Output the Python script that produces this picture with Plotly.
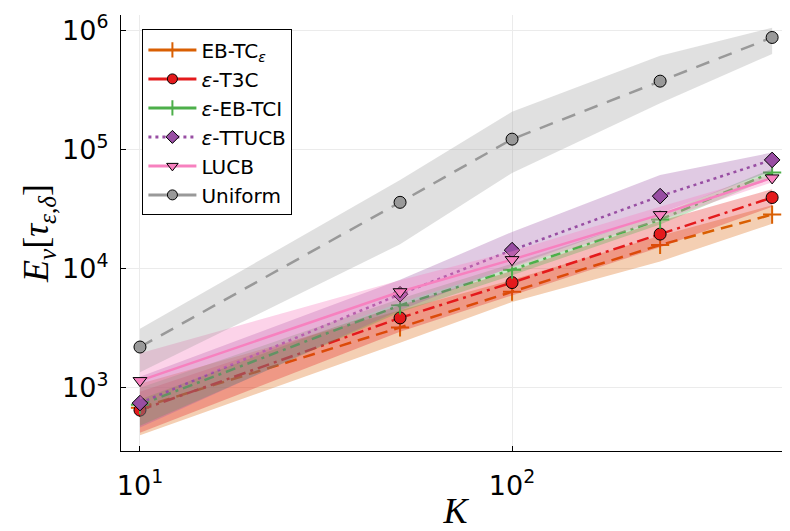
import plotly.graph_objects as go

K = [10, 50, 100, 250, 500]

names = ["EB-TC<sub><i>ε</i></sub>", "<i>ε</i>-T3C", "<i>ε</i>-EB-TCI", "<i>ε</i>-TTUCB", "LUCB", "Uniform"]

mean_ebtc = [680, 3210, 6400, 15800, 28400]
low_ebtc = [400, 2390, 5250, 11500, 23800]
up_ebtc = [1080, 4470, 8050, 18900, 34000]

mean_t3c = [650, 3860, 7640, 19500, 39500]
low_t3c = [420, 2950, 6000, 15100, 33000]
up_t3c = [925, 4920, 9600, 25100, 46400]

mean_ebtci = [720, 4920, 9800, 25800, 64000]
low_ebtci = [480, 4300, 8800, 23500, 58000]
up_ebtci = [1000, 5600, 11000, 28500, 69000]

mean_ttucb = [745, 6100, 14300, 40600, 81700]
low_ttucb = [464, 4470, 10400, 29000, 66100]
up_ttucb = [1240, 8050, 20300, 61100, 94200]

mean_lucb = [1150, 6400, 11900, 28400, 57700]
low_lucb = [800, 5200, 10200, 25500, 53000]
up_lucb = [1950, 8000, 14000, 33000, 62000]

mean_unif = [2200, 36000, 122000, 374000, 870000]
low_unif = [1350, 16000, 63500, 244000, 632000]
up_unif = [3130, 55400, 207000, 611000, 1050000]

x_tickvals = [10, 100]
x_ticktext = ["10<sup>1</sup>", "10<sup>2</sup>"]
y_tickvals = [1e3, 1e4, 1e5, 1e6]
y_ticktext = ["10<sup>3</sup>", "10<sup>4</sup>", "10<sup>5</sup>", "10<sup>6</sup>"]

colors = ["#D95F02", "#E41A1C", "#4DAF4A", "#984EA3", "#F781BF", "#999999"]
fills = ["rgba(217,95,2,0.3)", "rgba(228,26,28,0.3)", "rgba(77,175,74,0.3)",
         "rgba(152,78,163,0.3)", "rgba(247,129,191,0.35)", "rgba(153,153,153,0.3)"]
dashes = ["12px,7px", "12px,5px,3px,5px", "10px,5px,3px,5px", "3px,4px", "solid", "14px,10px"]
legend_dashes = ["solid", "solid", "solid", "3px,4px", "solid", "solid"]
symbols = ["cross-thin", "circle", "cross-thin", "diamond", "triangle-down", "circle"]

means = [mean_ebtc, mean_t3c, mean_ebtci, mean_ttucb, mean_lucb, mean_unif]
lows = [low_ebtc, low_t3c, low_ebtci, low_ttucb, low_lucb, low_unif]
ups = [up_ebtc, up_t3c, up_ebtci, up_ttucb, up_lucb, up_unif]

fig = go.Figure()

for i in range(6):
    thin = symbols[i] == "cross-thin"
    marker = dict(symbol=symbols[i], size=13 if thin else 12, color=colors[i],
                  line=dict(color=colors[i] if thin else "black", width=2 if thin else 1))
    fig.add_trace(go.Scatter(x=K + K[::-1], y=ups[i] + lows[i][::-1], fill="toself",
                             fillcolor=fills[i], line=dict(width=0), mode="lines",
                             showlegend=False, hoverinfo="skip"))
    fig.add_trace(go.Scatter(x=K, y=means[i], mode="lines+markers",
                             line=dict(color=colors[i], width=2.5, dash=dashes[i]),
                             marker=marker, showlegend=False))
    fig.add_trace(go.Scatter(x=[None], y=[None], mode="lines+markers", name=names[i],
                             line=dict(color=colors[i], width=3, dash=legend_dashes[i]),
                             marker=dict(symbol=symbols[i], size=11 if thin else 10, color=colors[i],
                                         line=dict(color=colors[i] if thin else "black",
                                                   width=2 if thin else 1))))

axis_common = dict(type="log", showgrid=True, gridcolor="#ebebeb", gridwidth=1,
                   showline=True, linecolor="black", linewidth=1.2,
                   ticks="inside", ticklen=5, tickcolor="black",
                   zeroline=False, automargin=False,
                   tickfont=dict(family="DejaVu Sans", size=27, color="black"))

fig.update_xaxes(**axis_common, range=[0.949, 2.747], tickvals=x_tickvals, ticktext=x_ticktext,
                 ticklabelstandoff=10,
                 title=dict(text="<i>K</i>", font=dict(family="Liberation Serif", size=36, color="black"),
                            standoff=0))
fig.update_yaxes(**axis_common, range=[2.47, 6.128], tickvals=y_tickvals, ticktext=y_ticktext,
                 ticklabelstandoff=6,
                 title=dict(text="<i>E</i><sub><i>ν</i></sub>[<i>τ</i><sub><i>ε</i>,<i>δ</i></sub>]",
                            font=dict(family="Liberation Serif", size=36, color="black"),
                            standoff=2))

fig.update_layout(
    width=782, height=523,
    margin=dict(l=113, r=0, t=7, b=80),
    plot_bgcolor="white", paper_bgcolor="white",
    legend=dict(x=0.032, y=0.967, xanchor="left", yanchor="top",
                bordercolor="black", borderwidth=1, bgcolor="white",
                font=dict(family="DejaVu Sans", size=20, color="black"),
                tracegroupgap=0, itemwidth=48),
)

fig.write_html("out.html")
